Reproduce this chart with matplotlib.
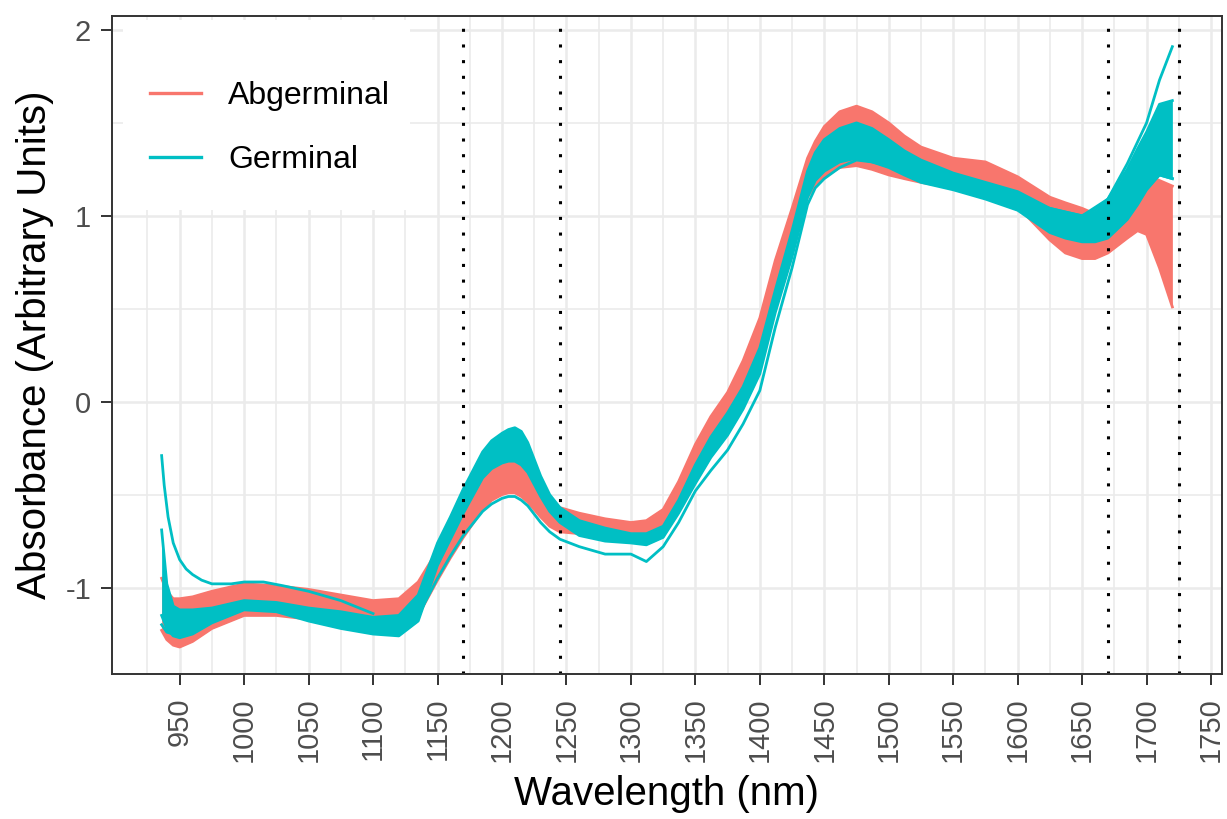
import matplotlib
matplotlib.use("Agg")
import matplotlib.pyplot as plt
from matplotlib.lines import Line2D
from matplotlib.patches import Rectangle
from matplotlib.ticker import FixedLocator

plt.rcParams["font.family"] = ["Liberation Sans", "DejaVu Sans"]

RED, CYAN = "#F8766D", "#00BFC4"

wl = [936, 940, 945, 950, 960, 975, 1000, 1025, 1050, 1075,
      1100, 1120, 1135, 1150, 1160, 1170, 1185, 1192, 1200, 1205,
      1210, 1215, 1220, 1230, 1237, 1245, 1260, 1280, 1300, 1312,
      1325, 1337, 1350, 1362, 1375, 1387, 1400, 1412, 1425, 1437,
      1443, 1450, 1462, 1475, 1487, 1500, 1512, 1525, 1550, 1575,
      1600, 1625, 1637, 1650, 1660, 1670, 1685, 1693, 1700, 1710, 1720]

# Abgerminal: upper / lower edge of the bundle
abg_top = [-0.95, -1.02, -1.06, -1.06, -1.05, -1.02, -0.98, -0.99, -1.01, -1.04,
           -1.07, -1.06, -0.97, -0.80, -0.69, -0.58, -0.42, -0.36, -0.33, -0.315,
           -0.31, -0.33, -0.38, -0.49, -0.54, -0.57, -0.60, -0.63, -0.65, -0.64,
           -0.58, -0.43, -0.23, -0.08, 0.05, 0.22, 0.45, 0.76, 1.04, 1.31,
           1.40, 1.48, 1.56, 1.59, 1.56, 1.50, 1.43, 1.37, 1.31, 1.29,
           1.21, 1.10, 1.07, 1.04, 1.01, 0.98, 1.02, 1.12, 1.22, 1.19, 1.16]
abg_bottom = [-1.23, -1.28, -1.31, -1.32, -1.29, -1.22, -1.15, -1.15, -1.17, -1.20,
              -1.22, -1.22, -1.15, -0.96, -0.84, -0.73, -0.58, -0.53, -0.50, -0.49,
              -0.49, -0.51, -0.54, -0.62, -0.67, -0.70, -0.71, -0.73, -0.74, -0.74,
              -0.70, -0.56, -0.38, -0.23, -0.10, 0.05, 0.24, 0.56, 0.86, 1.10,
              1.17, 1.21, 1.26, 1.27, 1.25, 1.22, 1.20, 1.18, 1.15, 1.12,
              1.05, 0.87, 0.80, 0.77, 0.77, 0.80, 0.88, 0.92, 0.90, 0.72, 0.51]

# Germinal: core bundle edges + individual outlying spectra
germ_top = [-0.69, -0.98, -1.10, -1.12, -1.12, -1.11, -1.07, -1.08, -1.11, -1.13,
            -1.16, -1.15, -1.04, -0.76, -0.62, -0.47, -0.27, -0.21, -0.17, -0.15,
            -0.14, -0.16, -0.22, -0.40, -0.50, -0.57, -0.64, -0.68, -0.71, -0.71,
            -0.67, -0.53, -0.34, -0.19, -0.06, 0.08, 0.29, 0.60, 0.92, 1.24,
            1.34, 1.41, 1.47, 1.50, 1.47, 1.41, 1.35, 1.30, 1.23, 1.18,
            1.13, 1.04, 1.02, 1.00, 1.03, 1.09, 1.25, 1.36, 1.45, 1.60, 1.62]
germ_bottom = [-1.15, -1.22, -1.26, -1.27, -1.25, -1.19, -1.12, -1.13, -1.18, -1.22,
               -1.25, -1.26, -1.18, -0.88, -0.74, -0.60, -0.41, -0.36, -0.33, -0.32,
               -0.32, -0.34, -0.38, -0.51, -0.59, -0.65, -0.72, -0.75, -0.76, -0.77,
               -0.73, -0.60, -0.44, -0.30, -0.18, -0.04, 0.15, 0.48, 0.78, 1.10,
               1.19, 1.24, 1.29, 1.31, 1.29, 1.26, 1.22, 1.18, 1.14, 1.09,
               1.03, 0.91, 0.88, 0.86, 0.86, 0.88, 0.98, 1.06, 1.14, 1.22, 1.20]
germ_low = [-1.20, -1.24, -1.25, -1.25, -1.22, -1.16, -1.10, -1.11, -1.15, -1.19,
            -1.22, -1.22, -1.15, -0.95, -0.83, -0.72, -0.59, -0.55, -0.52, -0.51,
            -0.51, -0.53, -0.56, -0.65, -0.70, -0.74, -0.78, -0.82, -0.82, -0.86,
            -0.78, -0.65, -0.48, -0.37, -0.26, -0.12, 0.06, 0.40, 0.72, 1.06,
            1.15, 1.20, 1.26, 1.30, 1.29, 1.27, 1.23, 1.20, 1.16, 1.10,
            1.04, 0.93, 0.90, 0.88, 0.88, 0.90, 1.00, 1.08, 1.16, 1.22, 1.20]

spike_wl = [936, 938, 941, 945, 950, 955, 960, 967, 975, 990, 1000, 1015, 1030, 1050, 1075, 1100]
germ_spike = [-0.29, -0.45, -0.62, -0.76, -0.85, -0.90, -0.93, -0.96, -0.98, -0.98,
              -0.97, -0.97, -0.99, -1.02, -1.07, -1.14]

tail_wl = [1625, 1650, 1670, 1685, 1700, 1710, 1720]
germ_tail = [1.04, 1.00, 1.09, 1.28, 1.50, 1.73, 1.91]

cutoffs = [1170, 1245, 1670, 1725]
x_breaks = list(range(950, 1751, 50))
x_minor = list(range(925, 1751, 50))
y_breaks = [-1, 0, 1, 2]
y_labels = ["-1", "0", "1", "2"]
y_minor = [-0.5, 0.5, 1.5]

fig = plt.figure(figsize=(12.27, 8.19), dpi=100)
ax = fig.add_axes([112 / 1227, 145 / 819, 1110 / 1227, 658 / 819])

ax.set_axisbelow(True)
ax.xaxis.set_minor_locator(FixedLocator(x_minor))
ax.yaxis.set_minor_locator(FixedLocator(y_minor))
ax.grid(which="major", color="#EBEBEB", lw=1.8)
ax.grid(which="minor", color="#EBEBEB", lw=1.2)

# Abgerminal bundle
ax.fill_between(wl, abg_bottom, abg_top, color=RED, lw=0, zorder=2)
for s in (abg_top, abg_bottom):
    ax.plot(wl, s, color=RED, lw=2, zorder=2)

# Germinal bundle on top
ax.fill_between(wl, germ_bottom, germ_top, color=CYAN, lw=0, zorder=3)
for s in (germ_top, germ_bottom, germ_low):
    ax.plot(wl, s, color=CYAN, lw=2, zorder=3)
ax.plot(spike_wl, germ_spike, color=CYAN, lw=2, zorder=3)
ax.plot(tail_wl, germ_tail, color=CYAN, lw=2, zorder=3)

for c in cutoffs:
    ax.axvline(c, color="black", lw=2.2, ls=(0, (1, 4.13)), zorder=4)

ax.set_xlim(897.5, 1758.5)
ax.set_ylim(-1.465, 2.075)
ax.set_xticks(x_breaks)
ax.set_xticklabels([str(v) for v in x_breaks], rotation=90)
ax.set_yticks(y_breaks, labels=y_labels)
ax.tick_params(which="major", length=8, width=1.4, color="#333333",
               labelcolor="#4D4D4D", labelsize=21, pad=7)
ax.tick_params(axis="x", which="major", pad=9)
ax.tick_params(which="minor", length=0)
for sp in ax.spines.values():
    sp.set_color("#333333"); sp.set_linewidth(1.4); sp.set_zorder(7)

ax.set_xlabel("Wavelength (nm)", fontsize=29, labelpad=9)
ax.set_ylabel("Absorbance (Arbitrary Units)", fontsize=29, labelpad=8)

# legend sits inside the panel on a white key box
ax.add_patch(Rectangle((0.0099, 0.705), 0.259, 0.289, transform=ax.transAxes,
                       facecolor="white", edgecolor="none", zorder=5))
handles = [Line2D([], [], color=RED, lw=2.4), Line2D([], [], color=CYAN, lw=2.4)]
leg = ax.legend(handles, ["Abgerminal", "Germinal"], loc="center left",
                bbox_to_anchor=(0.034, 0.830), frameon=False, fontsize=23,
                handlelength=1.6, handletextpad=0.85, labelspacing=1.07,
                borderpad=0, borderaxespad=0)
leg.set_zorder(6)

fig.savefig("out.png", dpi=100)
